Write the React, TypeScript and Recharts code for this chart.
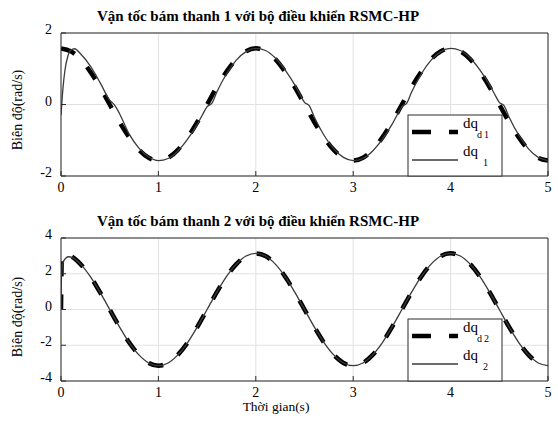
import React from 'react';
import { LineChart, Line, XAxis, YAxis, CartesianGrid } from 'recharts';

const X_TICKS = [0, 1, 2, 3, 4, 5];
const Y1_TICKS = [-2, 0, 2];
const Y2_TICKS = [-4, -2, 0, 2, 4];

// desired speed, link 1
const T_D1 = [
  0, 0.1, 0.2, 0.3, 0.4, 0.5, 0.6, 0.7, 0.8, 0.9,
  1, 1.1, 1.2, 1.3, 1.4, 1.5, 1.6, 1.7, 1.8, 1.9,
  2, 2.1, 2.2, 2.3, 2.4, 2.5, 2.6, 2.7, 2.8, 2.9,
  3, 3.1, 3.2, 3.3, 3.4, 3.5, 3.6, 3.7, 3.8, 3.9,
  4, 4.1, 4.2, 4.3, 4.4, 4.5, 4.6, 4.7, 4.8, 4.9,
  5,
];
const DQD1 = [
  1.57, 1.49, 1.27, 0.92, 0.49, 0, -0.49, -0.92, -1.27, -1.49,
  -1.57, -1.49, -1.27, -0.92, -0.49, 0, 0.49, 0.92, 1.27, 1.49,
  1.57, 1.49, 1.27, 0.92, 0.49, 0, -0.49, -0.92, -1.27, -1.49,
  -1.57, -1.49, -1.27, -0.92, -0.49, 0, 0.49, 0.92, 1.27, 1.49,
  1.57, 1.49, 1.27, 0.92, 0.49, 0, -0.49, -0.92, -1.27, -1.49,
  -1.57,
];

// actual speed, link 1
const T_1 = [
  0, 0.02, 0.04, 0.07, 0.1, 0.14,
  0.2, 0.3, 0.4, 0.5, 0.55, 0.6, 0.7, 0.8, 0.9,
  1, 1.1, 1.2, 1.3, 1.4, 1.45, 1.5, 1.55, 1.6, 1.7, 1.8, 1.9,
  2, 2.1, 2.2, 2.3, 2.4, 2.45, 2.5, 2.55, 2.6, 2.7, 2.8, 2.9,
  3, 3.1, 3.2, 3.3, 3.4, 3.45, 3.5, 3.55, 3.6, 3.7, 3.8, 3.9,
  4, 4.1, 4.2, 4.3, 4.4, 4.45, 4.5, 4.55, 4.6, 4.7, 4.8, 4.9,
  5,
];
const DQ1 = [
  -0.3, 0.45, 0.95, 1.35, 1.52, 1.56,
  1.42, 1.08, 0.62, 0.12, -0.02, -0.25, -0.83, -1.22, -1.47,
  -1.57, -1.51, -1.3, -0.97, -0.55, -0.3, -0.06, 0.04, 0.35, 0.86, 1.24, 1.48,
  1.57, 1.51, 1.3, 0.97, 0.55, 0.3, 0.06, -0.04, -0.35, -0.86, -1.24, -1.48,
  -1.57, -1.51, -1.3, -0.97, -0.55, -0.3, -0.06, 0.04, 0.35, 0.86, 1.24, 1.48,
  1.57, 1.51, 1.3, 0.97, 0.55, 0.3, 0.06, -0.04, -0.35, -0.86, -1.24, -1.48,
  -1.57,
];

// desired speed, link 2
const T_D2 = [
  0, 0.01,
  0.1, 0.2, 0.3, 0.4, 0.5, 0.6, 0.7, 0.8, 0.9, 1,
  1.1, 1.2, 1.3, 1.4, 1.5, 1.6, 1.7, 1.8, 1.9, 2,
  2.1, 2.2, 2.3, 2.4, 2.5, 2.6, 2.7, 2.8, 2.9, 3,
  3.1, 3.2, 3.3, 3.4, 3.5, 3.6, 3.7, 3.8, 3.9, 4,
  4.1, 4.2, 4.3, 4.4, 4.5, 4.6, 4.7, 4.8, 4.9, 5,
];
const DQD2 = [
  0, 3.1,
  2.99, 2.54, 1.85, 0.97, 0, -0.97, -1.85, -2.54, -2.99, -3.14,
  -2.99, -2.54, -1.85, -0.97, 0, 0.97, 1.85, 2.54, 2.99, 3.14,
  2.99, 2.54, 1.85, 0.97, 0, -0.97, -1.85, -2.54, -2.99, -3.14,
  -2.99, -2.54, -1.85, -0.97, 0, 0.97, 1.85, 2.54, 2.99, 3.14,
  2.99, 2.54, 1.85, 0.97, 0, -0.97, -1.85, -2.54, -2.99, -3.14,
];

// actual speed, link 2
const T_2 = [
  0, 0.005, 0.02, 0.05, 0.08, 0.12,
  0.2, 0.3, 0.4, 0.5, 0.6, 0.7, 0.8, 0.9, 1,
  1.1, 1.2, 1.3, 1.4, 1.5, 1.6, 1.7, 1.8, 1.9, 2,
  2.1, 2.2, 2.3, 2.4, 2.5, 2.6, 2.7, 2.8, 2.9, 3,
  3.1, 3.2, 3.3, 3.4, 3.5, 3.6, 3.7, 3.8, 3.9, 4,
  4.1, 4.2, 4.3, 4.4, 4.5, 4.6, 4.7, 4.8, 4.9, 5,
];
const DQ2 = [
  0, 1.9, 2.6, 2.88, 2.95, 2.9,
  2.54, 1.85, 0.97, 0, -0.97, -1.85, -2.54, -2.99, -3.14,
  -2.99, -2.54, -1.85, -0.97, 0, 0.97, 1.85, 2.54, 2.99, 3.14,
  2.99, 2.54, 1.85, 0.97, 0, -0.97, -1.85, -2.54, -2.99, -3.14,
  -2.99, -2.54, -1.85, -0.97, 0, 0.97, 1.85, 2.54, 2.99, 3.14,
  2.99, 2.54, 1.85, 0.97, 0, -0.97, -1.85, -2.54, -2.99, -3.14,
];

const zip = (ts: number[], vs: number[]) => ts.map((t, i) => ({ t, v: vs[i] }));

const FONT = "'Times New Roman', 'Liberation Serif', serif";
const AXIS = '#2b2b2b';

const makeXTick = (dy: number) => (p: any) => (
  <text x={p.x} y={p.y} dy={dy} textAnchor="middle" fontSize={14} fill="#000" fontFamily={FONT}>
    {p.payload.value}
  </text>
);
const yTick = (p: any) => (
  <text x={p.x} y={p.y} dy={1} textAnchor="end" fontSize={14} fill="#000" fontFamily={FONT}>
    {p.payload.value}
  </text>
);

function Panel({ d, a, yTicks, yDomain, top, height, mTop, mBottom, tickDy }: any) {
  return (
    <div style={{ position: 'absolute', left: 0, top }}>
      <LineChart width={558} height={height} margin={{ top: mTop - 1, right: 9, bottom: mBottom - 1, left: 60 }}>
        <CartesianGrid stroke="#e2e2e2" strokeWidth={1} />
        <XAxis xAxisId={0} type="number" dataKey="t" domain={[0, 5]} ticks={X_TICKS} height={1}
          stroke={AXIS} tickSize={-5} tickMargin={0} tick={makeXTick(tickDy)} allowDataOverflow />
        <XAxis xAxisId="top" orientation="top" type="number" dataKey="t" domain={[0, 5]} ticks={X_TICKS}
          height={1} stroke={AXIS} tickSize={-5} tick={false} allowDataOverflow />
        <YAxis yAxisId={0} type="number" domain={yDomain} ticks={yTicks} width={1}
          stroke={AXIS} tickSize={-5} tickMargin={14} tick={yTick} allowDataOverflow />
        <YAxis yAxisId="right" orientation="right" type="number" domain={yDomain} ticks={yTicks} width={1}
          stroke={AXIS} tickSize={-5} tick={false} allowDataOverflow />
        <Line data={d} dataKey="v" type="monotone" stroke="#000" strokeWidth={4.5}
          strokeDasharray="15 18" dot={false} isAnimationActive={false} />
        <Line data={a} dataKey="v" type="monotone" stroke="#3a3a3a" strokeWidth={1.3}
          dot={false} isAnimationActive={false} />
      </LineChart>
    </div>
  );
}

function LegendBox({ x, y, h, sub }: { x: number; y: number; h: number; sub: string }) {
  return (
    <g transform={`translate(${x},${y})`} fontFamily={FONT}>
      <rect x={0} y={0} width={94} height={h} fill="#fff" stroke={AXIS} strokeWidth={1} />
      <line x1={4} x2={50} y1={17} y2={17} stroke="#000" strokeWidth={4.5} strokeDasharray="19 18" />
      <text x={55} y={13} fontSize={15} fill="#000">dq</text>
      <text x={69} y={23} fontSize={10} letterSpacing={2} fill="#000">{'d' + sub}</text>
      <line x1={4} x2={50} y1={45} y2={45} stroke="#3a3a3a" strokeWidth={1.3} />
      <text x={55} y={41} fontSize={15} fill="#000">dq</text>
      <text x={75} y={51} fontSize={10} fill="#000">{sub}</text>
    </g>
  );
}

export default function App() {
  return (
    <div style={{ position: 'absolute', left: 0, top: 0, width: 558, height: 424, background: '#fff', fontFamily: FONT }}>
      <Panel d={zip(T_D1, DQD1)} a={zip(T_1, DQ1)} yTicks={Y1_TICKS} yDomain={[-2, 2]}
        top={0} height={200} mTop={33} mBottom={24} tickDy={20.5} />
      <Panel d={zip(T_D2, DQD2)} a={zip(T_2, DQ2)} yTicks={Y2_TICKS} yDomain={[-4, 4]}
        top={200} height={224} mTop={38} mBottom={43} tickDy={20.5} />
      <svg width={558} height={424} style={{ position: 'absolute', left: 0, top: 0, pointerEvents: 'none' }}>
        <text x={97} y={21} fontSize={15} fontWeight="bold" fontFamily={FONT} fill="#000">
          Vận tốc bám thanh 1 với bộ điều khiển RSMC-HP
        </text>
        <text x={97} y={226} fontSize={15} fontWeight="bold" fontFamily={FONT} fill="#000">
          Vận tốc bám thanh 2 với bộ điều khiển RSMC-HP
        </text>
        <text transform="translate(22,110) rotate(-90)" textAnchor="middle" fontSize={14} fontFamily={FONT}>
          Biên độ(rad/s)
        </text>
        <text transform="translate(22,317) rotate(-90)" textAnchor="middle" fontSize={14} fontFamily={FONT}>
          Biên độ(rad/s)
        </text>
        <text x={276} y={411} textAnchor="middle" fontSize={13.5} fontFamily={FONT}>
          Thời gian(s)
        </text>
        <LegendBox x={408} y={115} h={61} sub="1" />
        <LegendBox x={408} y={319} h={62} sub="2" />
      </svg>
    </div>
  );
}
